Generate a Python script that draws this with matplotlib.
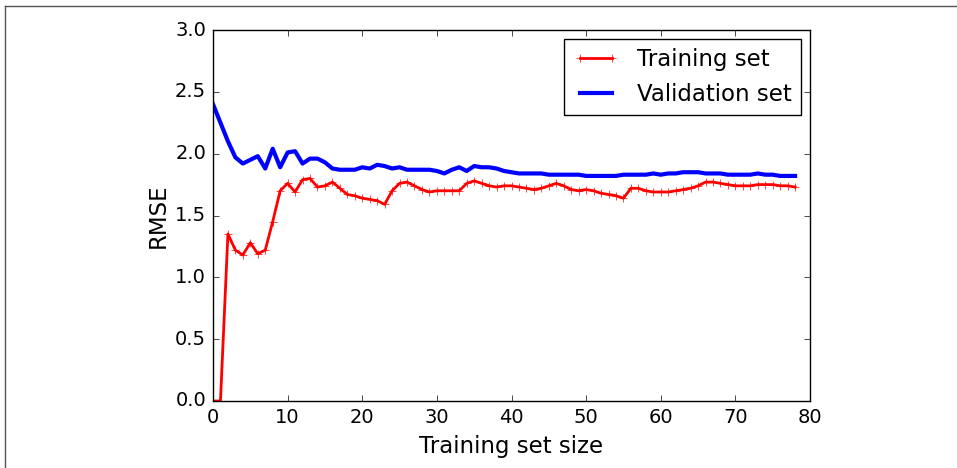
import numpy as np
import matplotlib
matplotlib.use("Agg")
import matplotlib.pyplot as plt
from matplotlib.lines import Line2D

# --- datos (x = 0..78) ---
train_rmse = [0.00, 0.00, 1.35, 1.22, 1.18, 1.28, 1.19, 1.22, 1.45, 1.70,
              1.76, 1.69, 1.79, 1.80, 1.73, 1.74, 1.77, 1.72, 1.67, 1.66,
              1.64, 1.63, 1.62, 1.59, 1.70, 1.76, 1.77, 1.74, 1.71, 1.69,
              1.70, 1.70, 1.70, 1.70, 1.76, 1.78, 1.76, 1.74, 1.73, 1.74,
              1.74, 1.73, 1.72, 1.71, 1.72, 1.74, 1.76, 1.74, 1.71, 1.70,
              1.71, 1.70, 1.68, 1.67, 1.66, 1.64, 1.72, 1.72, 1.70, 1.69,
              1.69, 1.69, 1.70, 1.71, 1.72, 1.74, 1.77, 1.77, 1.76, 1.75,
              1.74, 1.74, 1.74, 1.75, 1.75, 1.75, 1.74, 1.74, 1.73]
val_rmse = [2.40, 2.25, 2.10, 1.97, 1.92, 1.95, 1.98, 1.88, 2.04, 1.89,
            2.01, 2.02, 1.92, 1.96, 1.96, 1.93, 1.88, 1.87, 1.87, 1.87,
            1.89, 1.88, 1.91, 1.90, 1.88, 1.89, 1.87, 1.87, 1.87, 1.87,
            1.86, 1.84, 1.87, 1.89, 1.86, 1.90, 1.89, 1.89, 1.88, 1.86,
            1.85, 1.84, 1.84, 1.84, 1.84, 1.83, 1.83, 1.83, 1.83, 1.83,
            1.82, 1.82, 1.82, 1.82, 1.82, 1.83, 1.83, 1.83, 1.83, 1.84,
            1.83, 1.84, 1.84, 1.85, 1.85, 1.85, 1.84, 1.84, 1.84, 1.83,
            1.83, 1.83, 1.83, 1.84, 1.83, 1.83, 1.82, 1.82, 1.82]
labels = ["Training set", "Validation set"]
x_ticks = [0, 10, 20, 30, 40, 50, 60, 70, 80]
y_ticks = [0.0, 0.5, 1.0, 1.5, 2.0, 2.5, 3.0]

plt.style.use("classic")
plt.rcParams["figure.facecolor"] = "white"
plt.rcParams["savefig.facecolor"] = "white"
plt.rcParams["font.family"] = ["DejaVu Sans"]

fig = plt.figure(figsize=(9.57, 4.68), dpi=100)
ax = fig.add_axes([213 / 957, 67 / 468, 597 / 957, 371 / 468])

sizes = np.arange(len(train_rmse))
ax.plot(sizes, train_rmse, "r-+", linewidth=2, label=labels[0])
ax.plot(sizes, val_rmse, "b-", linewidth=3, label=labels[1])

ax.set_xlim(0, 80)
ax.set_ylim(0, 3)
ax.set_xticks(x_ticks)
ax.set_yticks(y_ticks)
ax.tick_params(labelsize=14, pad=5)
ax.set_xlabel("Training set size", fontsize=16.5, labelpad=6)
ax.set_ylabel("RMSE", fontsize=16.5, labelpad=4)
ax.legend(loc="upper right", fontsize=16.5, borderaxespad=0.4)

# marco gris de la imagen (solo izquierda y arriba visibles)
fig.add_artist(Line2D([4.5 / 957, 4.5 / 957], [0, 1 - 6 / 468],
                      transform=fig.transFigure, color="#555555", lw=1))
fig.add_artist(Line2D([4.5 / 957, 1], [1 - 6 / 468, 1 - 6 / 468],
                      transform=fig.transFigure, color="#555555", lw=1))

fig.savefig("out.png", dpi=100)
